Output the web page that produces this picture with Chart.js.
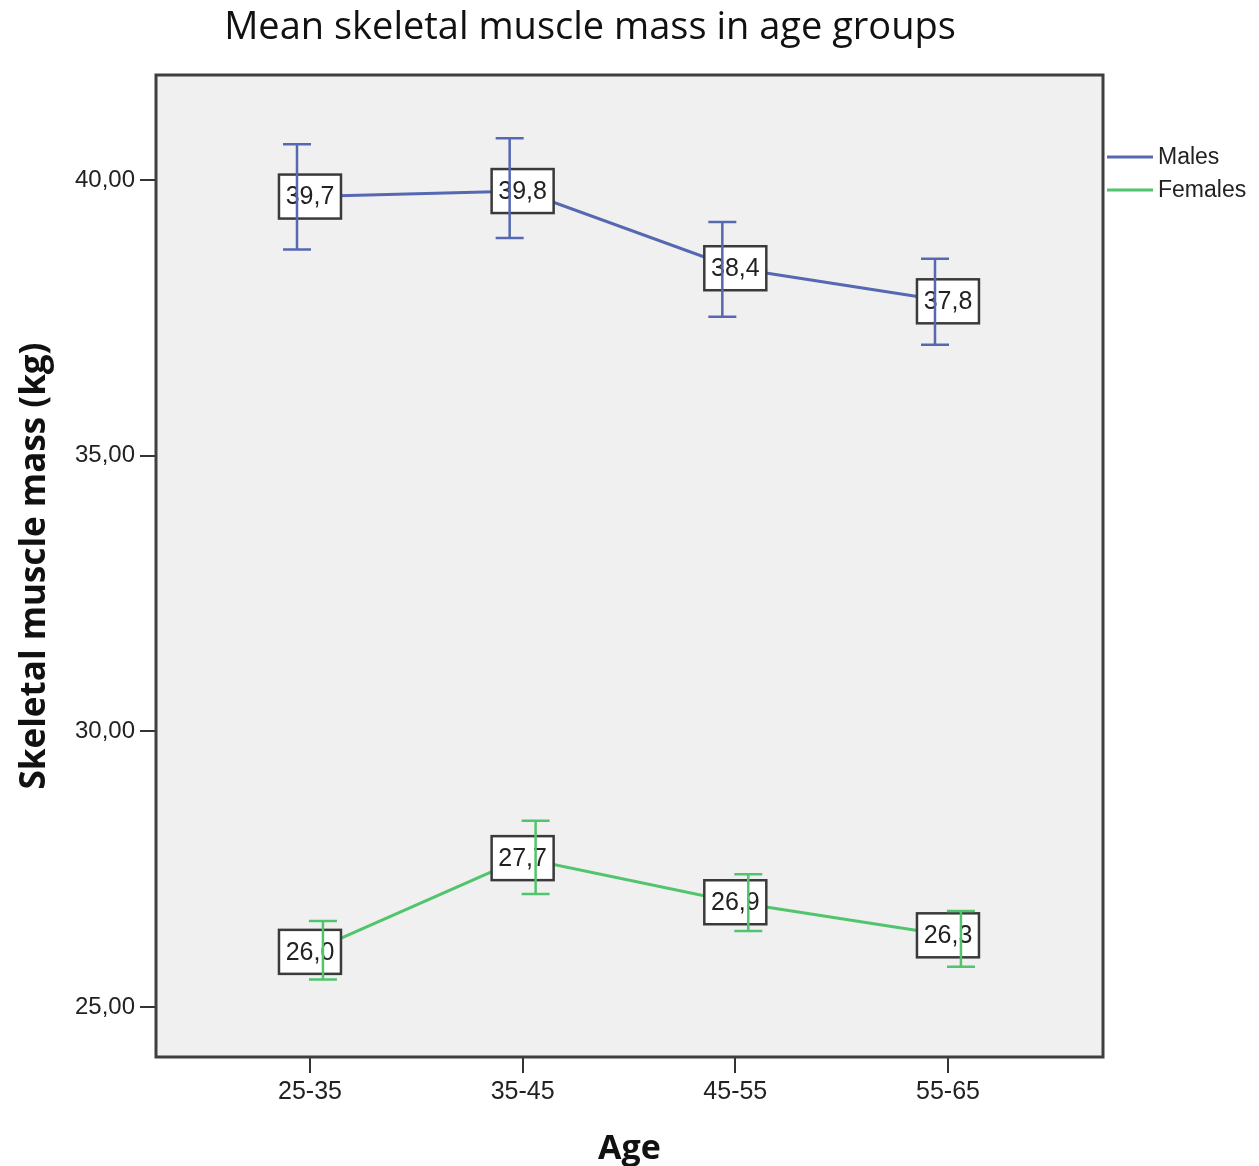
<!DOCTYPE html>
<html>
<head>
<meta charset="utf-8">
<title>Mean skeletal muscle mass in age groups</title>
<script src="https://cdn.jsdelivr.net/npm/chart.js@4/dist/chart.umd.min.js"></script>
<style>
  html, body { margin: 0; padding: 0; background: #fff; }
  canvas { display: block; }
</style>
</head>
<body>
<canvas id="smmChart" width="1259" height="1166"></canvas>
<script>
'use strict'

// age groups on the x axis
const ageGroups = ['25-35', '35-45', '45-55', '55-65']

// group means with 95% CI bounds (kg)
const malesMean = [39.7, 39.8, 38.4, 37.8]
const malesLow = [38.74, 38.95, 37.52, 37.01]
const malesHigh = [40.65, 40.76, 39.24, 38.57]

const femalesMean = [26.0, 27.7, 26.9, 26.3]
const femalesLow = [25.50, 27.05, 26.38, 25.73]
const femalesHigh = [26.56, 28.38, 27.41, 26.74]

const yTicks = [25, 30, 35, 40]

const fmt = v => v.toFixed(2).replace('.', ',')
const fmt1 = v => v.toFixed(1).replace('.', ',')
const points = arr => arr.map((v, i) => ({ x: i, y: v }))

const MALE_COLOR = '#5668b2'
const FEMALE_COLOR = '#52c46e'

// grey plot background + heavy frame
const frame = {
  id: 'frame',
  beforeDraw (chart) {
    const { ctx, chartArea: a } = chart
    ctx.save()
    ctx.fillStyle = '#f0f0f0'
    ctx.fillRect(a.left, a.top, a.right - a.left, a.bottom - a.top)
    ctx.restore()
  },
  afterDraw (chart) {
    const { ctx, chartArea: a } = chart
    ctx.save()
    ctx.strokeStyle = '#3f3f3f'
    ctx.lineWidth = 3
    ctx.strokeRect(a.left, a.top, a.right - a.left, a.bottom - a.top)
    ctx.restore()
  }
}

// boxed mean labels, then CI whiskers on top of them
const meanBoxes = {
  id: 'meanBoxes',
  afterDatasetsDraw (chart) {
    const { ctx } = chart
    const xs = chart.scales.x
    const ys = chart.scales.y
    ctx.save()
    chart.data.datasets.forEach(ds => {
      ds.data.forEach(p => {
        const px = xs.getPixelForValue(p.x)
        const py = ys.getPixelForValue(p.y)
        const w = 62
        const h = 44
        ctx.fillStyle = '#ffffff'
        ctx.fillRect(px - w / 2, py - h / 2, w, h)
        ctx.strokeStyle = '#3a3a3a'
        ctx.lineWidth = 2.5
        ctx.strokeRect(px - w / 2, py - h / 2, w, h)
        ctx.fillStyle = '#222'
        ctx.font = '25px "Liberation Sans", Arial, sans-serif'
        ctx.textAlign = 'center'
        ctx.textBaseline = 'middle'
        ctx.fillText(fmt1(p.y), px, py + 1)
      })
    })
    chart.data.datasets.forEach(ds => {
      ctx.strokeStyle = ds.borderColor
      ctx.lineWidth = 2.5
      ds.errLow.forEach((lo, i) => {
        const px = xs.getPixelForValue(i + ds.dodge)
        const y1 = ys.getPixelForValue(lo)
        const y2 = ys.getPixelForValue(ds.errHigh[i])
        ctx.beginPath()
        ctx.moveTo(px, y1)
        ctx.lineTo(px, y2)
        ctx.moveTo(px - 14, y1)
        ctx.lineTo(px + 14, y1)
        ctx.moveTo(px - 14, y2)
        ctx.lineTo(px + 14, y2)
        ctx.stroke()
      })
    })
    ctx.restore()
  }
}

// main title and the line legend to the right of the frame
const decorations = {
  id: 'decorations',
  afterDraw (chart) {
    const { ctx, chartArea: a } = chart
    ctx.save()
    ctx.fillStyle = '#111'
    ctx.font = '38px "Open Sans", sans-serif'
    ctx.textAlign = 'center'
    ctx.textBaseline = 'alphabetic'
    ctx.fillText('Mean skeletal muscle mass in age groups', 590, 39)

    ctx.font = '23px "Liberation Sans", Arial, sans-serif'
    ctx.textAlign = 'left'
    ctx.textBaseline = 'middle'
    chart.data.datasets.forEach((ds, i) => {
      const y = 157 + i * 33
      ctx.strokeStyle = ds.borderColor
      ctx.lineWidth = 3
      ctx.beginPath()
      ctx.moveTo(a.right + 4, y)
      ctx.lineTo(a.right + 50, y)
      ctx.stroke()
      ctx.fillStyle = '#222'
      ctx.fillText(ds.label, a.right + 55, y + 1)
    })
    ctx.restore()
  }
}

const ctx = document.getElementById('smmChart').getContext('2d')
const chart = new Chart(ctx, {
  type: 'line',
  data: {
    datasets: [{
      label: 'Males',
      data: points(malesMean),
      errLow: malesLow,
      errHigh: malesHigh,
      dodge: -0.061,
      borderColor: MALE_COLOR,
      borderWidth: 3,
      pointRadius: 0,
      tension: 0
    }, {
      label: 'Females',
      data: points(femalesMean),
      errLow: femalesLow,
      errHigh: femalesHigh,
      dodge: 0.061,
      borderColor: FEMALE_COLOR,
      borderWidth: 3,
      pointRadius: 0,
      tension: 0
    }]
  },
  options: {
    responsive: false,
    animation: false,
    layout: { padding: { top: 75, right: 156, left: 0, bottom: 0 } },
    plugins: {
      legend: { display: false },
      title: { display: false },
      tooltip: { enabled: false }
    },
    scales: {
      x: {
        type: 'linear',
        min: -0.724,
        max: 3.729,
        afterBuildTicks: scale => { scale.ticks = ageGroups.map((g, i) => ({ value: i })) },
        afterFit: scale => { scale.height = 109 },
        grid: { drawOnChartArea: false, drawTicks: true, tickLength: 16, color: '#333', lineWidth: 2 },
        border: { display: false },
        ticks: {
          callback: v => ageGroups[v],
          color: '#222',
          padding: 4,
          maxRotation: 0,
          font: { family: '"Liberation Sans", Arial, sans-serif', size: 25 }
        },
        title: {
          display: true,
          text: 'Age',
          color: '#111',
          padding: { top: 0, bottom: -4 },
          font: { family: '"Open Sans", sans-serif', size: 34, weight: 'bold' }
        }
      },
      y: {
        min: 24.093,
        max: 41.905,
        afterBuildTicks: scale => { scale.ticks = yTicks.map(v => ({ value: v })) },
        afterFit: scale => { scale.width = 156 },
        grid: { drawOnChartArea: false, drawTicks: true, tickLength: 16, color: '#333', lineWidth: 2 },
        border: { display: false },
        ticks: {
          callback: v => fmt(v),
          color: '#222',
          padding: 5,
          font: { family: '"Liberation Sans", Arial, sans-serif', size: 24 }
        },
        title: {
          display: true,
          text: 'Skeletal muscle mass (kg)',
          color: '#111',
          padding: { top: 14, bottom: 0 },
          font: { family: '"Open Sans", sans-serif', size: 35, weight: 'bold' }
        }
      }
    }
  },
  plugins: [frame, meanBoxes, decorations]
})
</script>
</body>
</html>
